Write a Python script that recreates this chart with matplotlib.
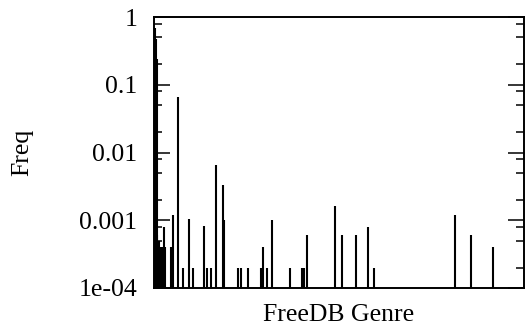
import matplotlib
matplotlib.use("Agg")
import matplotlib.pyplot as plt
from matplotlib.ticker import LogLocator, NullFormatter, FixedLocator

# Genre index (position along x) and frequency
genre_idx = [1.2, 1.9, 2.6, 3.3, 4.6, 6.5, 8.0, 9.7, 11.3, 16.7, 19.3, 24.3,
             29.3, 34.7, 38.7, 50.3, 53.3, 57.0, 61.7, 69.0, 70.0, 83.7, 86.7,
             94.3, 106.7, 109.3, 113.3, 117.7, 136.0, 148.3, 149.7, 152.7,
             180.7, 187.7, 202.0, 214.3, 220.3, 301.0, 317.0, 339.0]
freq = [0.68, 0.48, 0.24, 6e-4, 5e-4, 4e-4, 4e-4, 8e-4, 4e-4, 4e-4, 1.2e-3, 0.066,
        2e-4, 1.05e-3, 2e-4, 8.2e-4, 2e-4, 2e-4, 6.6e-3, 3.3e-3, 1e-3, 2e-4, 2e-4,
        2e-4, 2e-4, 4e-4, 2e-4, 1e-3, 2e-4, 2e-4, 2e-4, 6e-4,
        1.6e-3, 6e-4, 6e-4, 8e-4, 2e-4, 1.2e-3, 6e-4, 4e-4]
ytick_vals = [1e-4, 1e-3, 1e-2, 1e-1, 1]
ytick_labels = ["1e-04", "0.001", "0.01", "0.1", "1"]
ymin, ymax = 1e-4, 1
xmin, xmax = 0, 370

plt.rcParams['font.family'] = ['Liberation Serif', 'DejaVu Serif']
fs = 18.5

fig = plt.figure(figsize=(5.25, 3.26), dpi=100)
W, H = 525, 326
ax = fig.add_axes([154 / W, (H - 288) / H, (524 - 154) / W, (288 - 17) / H])

ax.vlines(genre_idx, ymin, freq, colors='black', linewidth=1.5)

ax.set_yscale('log')
ax.set_ylim(ymin, ymax)
ax.set_xlim(xmin, xmax)

ax.yaxis.set_major_locator(FixedLocator(ytick_vals))
ax.set_yticklabels(ytick_labels, fontsize=fs)
ax.yaxis.set_minor_locator(LogLocator(base=10, subs=(2, 5, 8)))
ax.yaxis.set_minor_formatter(NullFormatter())
ax.tick_params(axis='y', which='major', direction='in', length=11.5, width=1.1,
               left=True, right=True, labelleft=True, labelright=False, pad=12)
ax.tick_params(axis='y', which='minor', direction='in', length=5.8, width=1.1,
               left=True, right=True)
ax.set_xticks([])

for s in ax.spines.values():
    s.set_linewidth(1.4)

fig.text(22 / W, 1 - 152 / H, "Freq", rotation=90, ha='center', va='center', fontsize=fs)
fig.text(339 / W, 1 - 321 / H, "FreeDB Genre", ha='center', va='baseline', fontsize=fs)

fig.savefig("out.png", dpi=100)
